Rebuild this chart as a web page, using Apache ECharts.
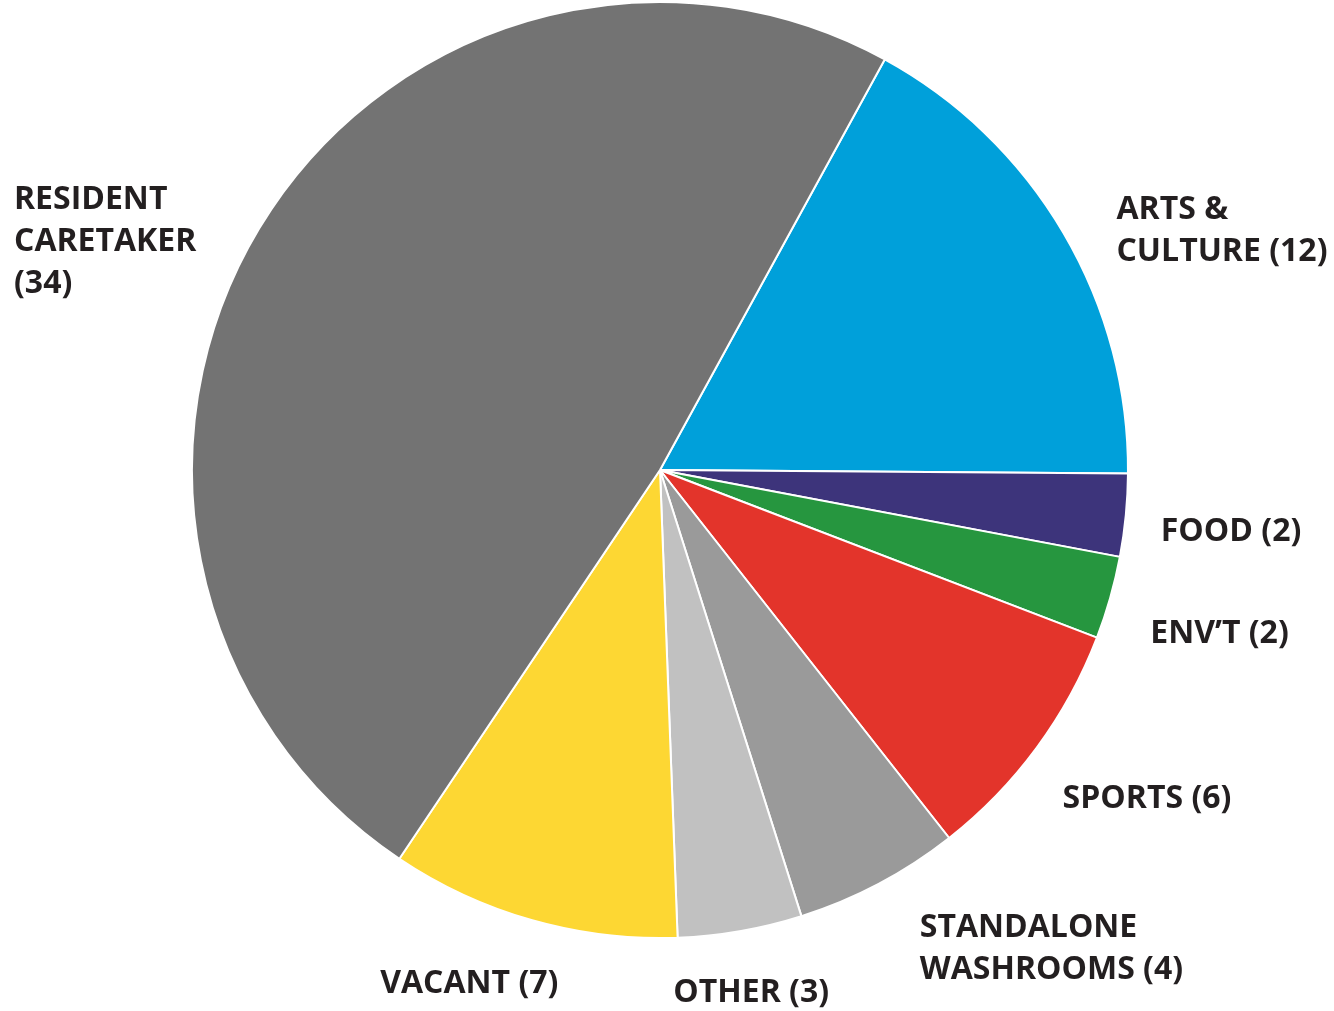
<!DOCTYPE html>
<html>
<head>
<meta charset="utf-8">
<script src="https://cdn.jsdelivr.net/npm/echarts@6/dist/echarts.min.js"></script>
<style>
  html, body { margin: 0; padding: 0; background: #fff; }
  #chart { width: 1334px; height: 1011px; }
</style>
</head>
<body>
<div id="chart"></div>
<script>
  // categories, clockwise from the top-right edge of the grey slice
  const names = ['ARTS &\nCULTURE', 'FOOD', 'ENV\u2019T', 'SPORTS', 'STANDALONE\nWASHROOMS', 'OTHER', 'VACANT', 'RESIDENT\nCARETAKER'];
  const values = [12, 2, 2, 6, 4, 3, 7, 34];
  const colors = ['#00a0da', '#3d347b', '#26963f', '#e3342b', '#9a9a9a', '#c1c1c1', '#fdd733', '#737373'];

  // pie geometry (px)
  const cx = 660, cy = 470, r = 468, startAngle = 61.3;
  // label nudges from the rim point at each slice's mid angle
  const labelNudge = [[53, -2], [35, 17], [40, 36], [26, 51], [41, 65], [-67, 62], [-152, 64], [-246, 15]];

  const total = values.reduce((a, b) => a + b, 0);
  let acc = 0;
  const midAngles = values.map(v => {
    const m = startAngle - (acc + v / 2) / total * 360;
    acc += v;
    return m * Math.PI / 180;
  });

  const chart = echarts.init(document.getElementById('chart'));
  chart.setOption({
    animation: false,
    series: [{
      type: 'pie',
      center: [cx, cy],
      radius: [0, r],
      startAngle: startAngle,
      clockwise: true,
      avoidLabelOverlap: false,
      itemStyle: { borderColor: '#ffffff', borderWidth: 2 },
      label: {
        show: true,
        position: 'outside',
        color: '#231f20',
        fontFamily: 'Open Sans',
        fontWeight: 700,
        fontSize: 32,
        lineHeight: 42,
        formatter: p => p.name + (p.dataIndex === 7 ? '\n' : ' ') + '(' + p.value + ')'
      },
      labelLine: { show: false },
      labelLayout: p => {
        const i = p.dataIndex;
        const a = midAngles[i];
        return {
          x: cx + r * Math.cos(a) + labelNudge[i][0],
          y: cy - r * Math.sin(a) + labelNudge[i][1],
          align: 'left',
          verticalAlign: 'middle'
        };
      },
      data: names.map((n, i) => ({ name: n, value: values[i], itemStyle: { color: colors[i] } }))
    }]
  });
</script>
</body>
</html>
